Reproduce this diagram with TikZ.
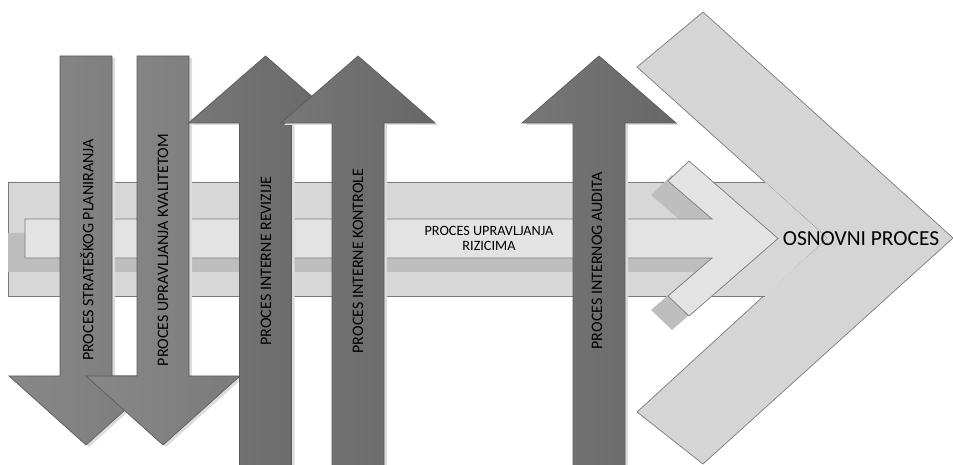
\documentclass[tikz,border=0pt]{standalone}
\usepackage{fontspec}
\setmainfont{Carlito}

% palette
\definecolor{chevgray}{HTML}{D5D5D5}
\definecolor{bandgray}{HTML}{D7D7D7}
\definecolor{innergray}{HTML}{E3E3E3}
\definecolor{innershade}{HTML}{BEBEBE}
\definecolor{dnL}{HTML}{888888}
\definecolor{dnR}{HTML}{7B7B7B}
\definecolor{upL}{HTML}{777777}
\definecolor{upR}{HTML}{676767}
\definecolor{edgegray}{HTML}{5C5C5C}
\definecolor{lightedge}{HTML}{7A7A7A}
\definecolor{dropgray}{HTML}{DCDCDC}

\tikzset{
  chevronshape/.style={fill=chevgray, draw=lightedge, line width=0.4pt, line join=miter},
  bandfill/.style={fill=bandgray},
  bandedge/.style={draw=lightedge, line width=0.4pt},
  innerfill/.style={fill=innershade},
  innerarrow/.style={fill=innergray, draw=lightedge, line width=0.4pt, line join=miter},
  dnfill/.style={left color=dnL, right color=dnR, draw=edgegray, line width=0.4pt, line join=miter},
  upfill/.style={left color=upL, right color=upR, draw=edgegray, line width=0.4pt, line join=miter},
  dropshade/.style={fill=dropgray, draw=none},
  vlabel/.style={rotate=90, inner sep=0pt, text=black, font=\fontsize{9.1}{11}\selectfont},
  bandlabel/.style={inner sep=0pt, align=center, text=black, font=\fontsize{8.1}{8.6}\selectfont},
  mainlabel/.style={inner sep=0pt, text=black, font=\fontsize{12.2}{14}\selectfont},
}

% downward block arrow centred at x = #1
\newcommand\DownBlockArrow[1]{%
  \path[dropshade, shift={(3,2)}] ({#1-26},56) -- ({#1+26},56) -- ({#1+26},376) -- ({#1+77},376)
      -- (#1,445) -- ({#1-77},376) -- ({#1-26},376) -- cycle;
  \path[dnfill] ({#1-26},56) -- ({#1+26},56) -- ({#1+26},376) -- ({#1+77},376)
      -- (#1,445) -- ({#1-77},376) -- ({#1-26},376) -- cycle;
}
% upward block arrow centred at x = #1
\newcommand\UpBlockArrow[1]{%
  \path[dropshade, shift={(3,2)}] (#1,56) -- ({#1+77},123) -- ({#1+26},123) -- ({#1+26},468)
      -- ({#1-26},468) -- ({#1-26},123) -- ({#1-77},123) -- cycle;
  \path[upfill] (#1,56) -- ({#1+77},123) -- ({#1+26},123) -- ({#1+26},468)
      -- ({#1-26},468) -- ({#1-26},123) -- ({#1-77},123) -- cycle;
}

\begin{document}
\begin{tikzpicture}[x=0.02cm, y=-0.02cm]
\useasboundingbox (0,0) rectangle (953,465);

% large chevron on the right
\path[chevronshape] (703,12) -- (953,238) -- (703,464) -- (637,412) -- (827,238) -- (637,67) -- cycle;

% wide horizontal band running into the chevron notch
\fill[bandfill] (8,182) -- (765,182) -- (827,238) -- (765,296) -- (8,296) -- cycle;
\draw[bandedge] (765,182) -- (8,182) -- (8,296) -- (765,296);

% inner arrow: offset shade, then the arrow itself
\begin{scope}[shift={(-17,14)}]
  \fill[innerfill] (25,219) -- (712,219) -- (668,181) -- (689,161) -- (778,238.5)
      -- (689,316) -- (668,296) -- (712,258) -- (25,258) -- cycle;
\end{scope}
\path[innerarrow] (25,219) -- (712,219) -- (668,181) -- (689,161) -- (778,238.5)
    -- (689,316) -- (668,296) -- (712,258) -- (25,258) -- cycle;

\node[bandlabel] (risk) at (489,238.5) {PROCES UPRAVLJANJA\\RIZICIMA};
\node[mainlabel] (core) at (861,239) {OSNOVNI PROCES};

% vertical process arrows
\DownBlockArrow{86}
\DownBlockArrow{163}
\UpBlockArrow{265.5}
\UpBlockArrow{358}
\UpBlockArrow{599}

\node[vlabel] (plan)   at (87,250)  {PROCES STRATEŠKOG PLANIRANJA};
\node[vlabel] (qual)   at (163,250) {PROCES UPRAVLJANJA KVALITETOM};
\node[vlabel] (rev)    at (266,261) {PROCES INTERNE REVIZIJE};
\node[vlabel] (ctrl)   at (358,261) {PROCES INTERNE KONTROLE};
\node[vlabel] (audit)  at (597,261) {PROCES INTERNOG AUDITA};
\end{tikzpicture}
\end{document}
